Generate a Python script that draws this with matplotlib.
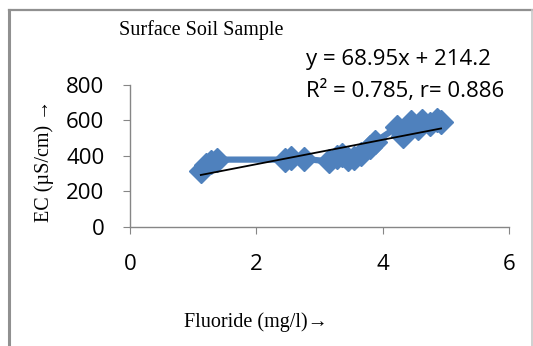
import numpy as np
import matplotlib
matplotlib.use("Agg")
import matplotlib.pyplot as plt
from matplotlib.lines import Line2D

# fluoride (mg/l) vs EC (uS/cm), surface soil samples, sorted by fluoride
fluoride = [1.12, 1.20, 1.28, 1.38, 2.45, 2.55, 2.75, 3.15, 3.27, 3.35, 3.45,
            3.55, 3.65, 3.80, 3.88, 4.22, 4.32, 4.45, 4.55, 4.62, 4.75, 4.85, 4.92]
ec = [316, 345, 365, 378, 378, 385, 382, 368, 395, 405, 380,
      385, 410, 450, 478, 560, 510, 590, 555, 595, 580, 600, 590]

slope, intercept = 68.95, 214.2
eq_line1 = "y = 68.95x + 214.2"
eq_line2 = "R² = 0.785, r= 0.886"

x_ticks = [0, 2, 4, 6]
y_ticks = [0, 200, 400, 600, 800]

serif = "Liberation Serif"
sans = "Open Sans"
grey = "#868686"

fig = plt.figure(figsize=(5.33, 3.46), dpi=100)
ax = fig.add_axes([0.2439, 0.3448, 0.7117, 0.4104])

# outer frame of the chart area (bottom edge falls off the page)
fig.add_artist(Line2D([9/533, 9/533], [0, 1 - 10/346], color="#909090", lw=2.2))
fig.add_artist(Line2D([9/533, 532/533], [1 - 10/346, 1 - 10/346], color="#909090", lw=1.6))
fig.add_artist(Line2D([532/533, 532/533], [0, 1 - 10/346], color="#c8c8c8", lw=1.2))

ax.plot(fluoride, ec, color="#4f81bd", lw=4.5, marker="D", ms=12,
        markeredgecolor="#4f81bd", zorder=2)

fx = np.array([fluoride[0], fluoride[-1]])
ax.plot(fx, slope * fx + intercept, color="black", lw=1.3, zorder=3)

ax.set_xlim(0, 6)
ax.set_ylim(0, 800)
ax.set_xticks(x_ticks)
ax.set_yticks(y_ticks)
ax.tick_params(direction="out", length=5, color=grey, labelsize=16)
for lab in ax.get_xticklabels() + ax.get_yticklabels():
    lab.set_fontfamily(sans)
ax.tick_params(axis="x", pad=15)
ax.tick_params(axis="y", pad=13.5)
for side in ("top", "right"):
    ax.spines[side].set_visible(False)
for side in ("left", "bottom"):
    ax.spines[side].set_color(grey)
    ax.spines[side].set_linewidth(1.0)

fig.text(119/533, 1 - 30/346, "Surface Soil Sample", family=serif, fontsize=14.5,
         ha="left", va="center")
fig.text(398/533, 1 - 60/346, eq_line1, family=sans, fontsize=16,
         ha="center", va="center")
fig.text(405/533, 1 - 91/346, eq_line2, family=sans, fontsize=16,
         ha="center", va="center")
fig.text(44/533, 1 - 161/346, "EC (µS/cm) →", family=serif, fontsize=14.5,
         rotation=90, ha="center", va="center")
fig.text(256/533, 1 - 322/346, "Fluoride (mg/l)→", family=serif, fontsize=14.5,
         ha="center", va="center")

fig.savefig("out.png", dpi=100)
